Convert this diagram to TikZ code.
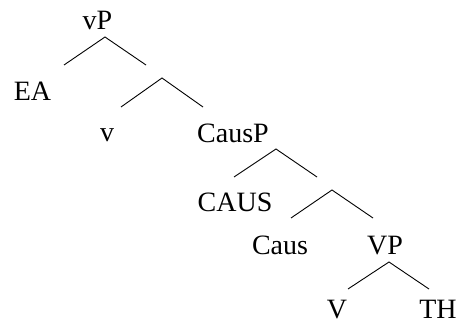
\documentclass[tikz,border=0pt]{standalone}
\usepackage{fontspec}
\setmainfont{Liberation Serif}
\begin{document}
\begin{tikzpicture}[x=1pt,y=-1pt,
  lab/.style={anchor=base,inner sep=0pt,text depth=0pt,font=\fontsize{28}{32}\selectfont},
  branch/.style={line width=0.9pt,black}]
\useasboundingbox (0,0) rectangle (459,324);
% labels
\node[lab] (vP)    at (97.5,29)  {vP};
\node[lab] (EA)    at (32.5,100) {EA};
\node[lab] (v)     at (107,141)  {v};
\node[lab] (CausP) at (233,142)  {CausP};
\node[lab] (CAUS)  at (235,211)  {CAUS};
\node[lab] (Caus)  at (280,254)  {Caus};
\node[lab] (VP)    at (385,254)  {VP};
\node[lab] (V)     at (337,318)  {V};
\node[lab] (TH)    at (438,318)  {TH};
% branch points
\coordinate (a1) at (105,37);  \coordinate (l1) at (64,65);   \coordinate (r1) at (146,65);
\coordinate (a2) at (162,78);  \coordinate (l2) at (121,107); \coordinate (r2) at (203,107);
\coordinate (a3) at (276,149); \coordinate (l3) at (234,177); \coordinate (r3) at (317,177);
\coordinate (a4) at (332,190); \coordinate (l4) at (291,218); \coordinate (r4) at (373,218);
\coordinate (a5) at (389,262); \coordinate (l5) at (348,289); \coordinate (r5) at (429,289);
\foreach \i in {1,...,5}{
  \draw[branch] (l\i) -- (a\i) -- (r\i);
}
\end{tikzpicture}
\end{document}
